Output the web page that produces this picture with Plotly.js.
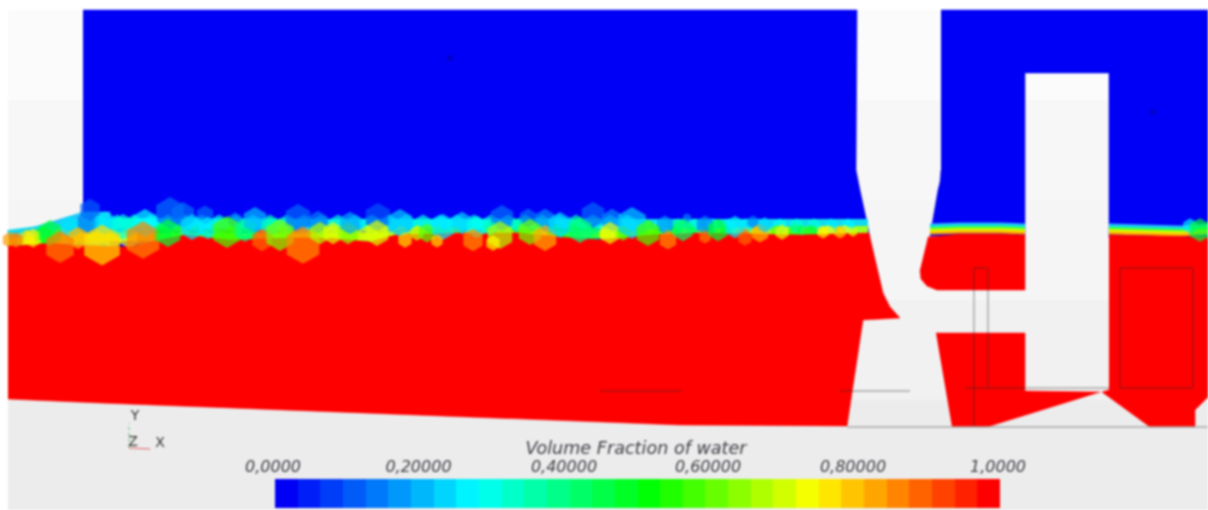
<!DOCTYPE html>
<html><head><meta charset="utf-8">
<script src="https://cdn.plot.ly/plotly-3.0.1.min.js"></script>
<style>html,body{margin:0;padding:0;background:#fff}#plot{width:1208px;height:510px;filter:blur(0.85px)}</style>
</head><body><div id="plot"></div>
<script>
// Volume fraction colour map
const jetScale=[[0,'#0000f6'],[0.27,'#00ffff'],[0.52,'#00ff00'],[0.75,'#ffff00'],[1,'#ff0000']];

// Background gradient
const bgX=[8,1208];
const bgY=[10,100,200,300,400,510];
const bgZ=[[0.983],[0.97],[0.96],[0.945],[0.925]];

// Air regions (volume fraction 0)
const airLeftX=[83,857,856,858,860,868,872,83];
const airLeftY=[10,10,170,182,190,227,252,252];
const airRightX=[941,1208,1208,1109,1109,1025,1025,930,938,940,941];
const airRightY=[10,10,238,238,73,73,236,236,190,182,170];

// Cyan wedge under the inlet block
const wedgeX=[8,83,110,110,8];
const wedgeY=[235,212,212,252,252];

// Interface backing bands
const backX=[8,100,300,500,700,868];
const backCyanY=[235,223,224,224,225,224];
const backGreenY=[242,237,237,236,232,230];
const midBandX=[930,960,1000,1025];
const midBandY=[229,228,228,229];
const rightBandX=[1109,1150,1180,1208];
const rightBandY=[229,230,231,229];
const bandColors=['#30b0ff','#00f0d0','#60ff20','#e0ff00','#ffb000'];
const bandOffsets=[-4,-2,0,2,4];

// Upper row of interface cells (lies under the water surface)
const upperX=[100,117,134,151,168,185,202,219,236,253,270,287,304,321,338,355,372,389,406,423,440,457,474,491,508,525,542,559,576,593,610,627,644,661,678,695,712,729,746,763,780,797,814,831,848];
const upperY=[225,225,225,225,225,225,225,225,225,225,225,225,225,225,225,225,225,225,225,225,225,225,225,225,225,225,225,225,225,225,225,225,226,226,226,226,226,226,226,226,226,226,226,226,226];
const upperSize=[18,18,18,18,18,18,18,18,18,18,18,18,18,18,18,18,18,18,18,18,18,18,18,18,18,18,18,18,18,18,18,18,13,13,13,13,13,13,13,13,13,13,13,13,13];
const upperValue=[0.28,0.3,0.33,0.28,0.3,0.26,0.27,0.3,0.3,0.22,0.33,0.3,0.25,0.22,0.3,0.24,0.3,0.25,0.25,0.3,0.26,0.27,0.3,0.3,0.3,0.35,0.3,0.26,0.35,0.3,0.25,0.27,0.33,0.28,0.35,0.3,0.27,0.27,0.25,0.27,0.28,0.3,0.3,0.25,0.26];

// Lower row of interface cells (lies under the water surface)
const lowerX=[10,27,44,61,78,95,112,129,146,163,180,197,214,231,248,265,282,299,316,333,350,367,384,401,418,437,454,471,488,505,522,539,556,573,590,607,624,641,658,675,692,709,726,743,760,777,794,811,828,845];
const lowerY=[240,239,236,238,238,238,238,238,238,236,236,236,236,236,236,238,236,238,236,236,236,236,236,236,236,236,236,238,238,236,236,238,235,235,235,235,235,235,235,233,233,233,233,234,233,232,232,232,232,232];
const lowerSize=[14,16,18,18,18,18,18,18,18,18,18,18,18,18,18,18,18,18,18,18,18,18,18,18,18,18,18,18,18,18,18,18,18,18,18,14,14,14,14,12,12,12,12,12,12,12,12,12,12,12];
const lowerValue=[0.85,0.78,0.5,0.8,0.8,0.78,0.78,0.75,0.85,0.5,0.6,0.55,0.55,0.55,0.5,0.88,0.62,0.85,0.68,0.72,0.65,0.72,0.72,0.7,0.7,0.58,0.62,0.72,0.68,0.68,0.6,0.75,0.5,0.5,0.45,0.72,0.6,0.58,0.58,0.5,0.45,0.48,0.5,0.85,0.8,0.6,0.55,0.5,0.75,0.75];

// Water regions (volume fraction 1)
const waterAX=[8,30,50,70,100,130,160,185,230,290,330,370,395,460,520,560,600,650,700,800,869,878,883,890,900,863,847,680,600,100,8];
const waterAY=[246,245,243,245,246,247,240,235,240,238,238,242,235,233,233,237,240,235,233,235,233,270,293,307,318,320,426,425,422,403,399];
const waterBX=[928,960,1000,1025,1025,937,927,921,920];
const waterBY=[237,234,234,235,290,290,286,279,270];
const waterCX=[936,1025,1025,1100,987,952];
const waterCY=[333,333,391,392,427,427];
const waterDX=[1109,1150,1208,1208,1195,1195,1150,1102,1109];
const waterDY=[235,236,237,397,410,427,427,392,390];

// Individually visible interface cells
const cellX=[90,170,183,205,235,298,318,378,502,528,545,593,612,665,687,705,753,
  16,33,50,70,88,78,60,105,123,145,102,143,168,192,208,227,245,255,270,262,280,303,320,333,348,350,377,400,405,417,
  427,443,437,462,477,490,473,500,493,517,530,545,560,580,610,623,632,648,668,683,705,718,735,745,760,765,782,795,802,823,840,853,1190,1200];
const cellY=[210,213,215,215,220,218,222,217,218,218,220,215,220,225,218,225,222,
  240,238,233,227,223,238,247,223,227,223,245,240,233,227,228,232,230,220,227,240,235,245,233,233,233,223,233,223,240,233,
  233,227,241,223,227,228,240,235,243,225,232,238,225,230,233,233,223,233,240,230,237,230,227,238,233,225,232,228,230,232,232,232,226,230];
const cellSize=[19,27,22,16,13,24,19,24,22,16,19,22,19,16,8,16,11,
  13,16,22,19,20,19,27,20,22,24,35,32,24,22,19,27,20,22,16,19,27,32,19,19,19,19,22,24,13,13,
  16,22,11,19,19,13,19,24,13,11,22,22,22,22,19,13,27,22,16,19,11,19,19,13,16,13,13,9,9,11,11,8,13,20];
const cellValue=[0.1,0.12,0.12,0.11,0.14,0.11,0.13,0.09,0.12,0.12,0.15,0.11,0.15,0.16,0.14,0.14,0.14,
  0.88,0.76,0.47,0.24,0.13,0.82,0.88,0.24,0.3,0.27,0.78,0.87,0.47,0.24,0.25,0.58,0.38,0.2,0.34,0.9,0.63,0.86,0.68,0.72,0.65,0.18,0.72,0.22,0.78,0.7,
  0.6,0.25,0.78,0.23,0.28,0.34,0.86,0.68,0.75,0.34,0.62,0.83,0.23,0.4,0.73,0.6,0.22,0.58,0.86,0.42,0.88,0.47,0.25,0.9,0.82,0.22,0.73,0.36,0.45,0.76,0.8,0.72,0.25,0.47];

// Thin mesh outlines
const outlineX=[974,974,988,988,null,965,1109,null,840,910,null,600,682,null,1120,1120,1193,1193,1120];
const outlineY=[427,268,268,388,null,388,388,null,391,391,null,391,391,null,388,268,268,388,388];
const floorX=[847,1208];
const floorY=[427,427];

// Smudges in the air phase
const smudgeX=[450,1153];
const smudgeY=[58,112];

// Colour bar
const barEdges=[];
const barValues=[];
const barCount=32;
for(let i=0;i<barCount;i++){barValues.push(i/(barCount-1));}
for(let i=0;i<=barCount;i++){barEdges.push(275+i*725/barCount);}
const barY=[479,508];

const tickLabels=['0,0000','0,20000','0,40000','0,60000','0,80000','1,0000'];
const tickX=[273,418.5,564,708,853,998];
const tickY=[468,468,468,468,468,468];
const barTitle='Volume Fraction of water';
const titleX=[636];
const titleY=[450];

// Axes triad
const triadXx=[129,150];const triadXy=[448,449];
const triadYx=[129,129];const triadYy=[448,423];
const triadLabels=['Y','Z','X'];
const triadLabelX=[135,133,160];
const triadLabelY=[416,442,443];

const gray=[[0,'#000000'],[1,'#ffffff']];
const poly=(x,y,c)=>({type:'scatter',mode:'lines',x:x,y:y,fill:'toself',fillcolor:c,line:{width:0.5,color:c},hoverinfo:'skip'});
const cells=(x,y,s,v)=>({type:'scatter',mode:'markers',x:x,y:y,marker:{symbol:'hexagon',size:s,sizemode:'diameter',sizeref:0.85,color:v,cmin:0,cmax:1,colorscale:jetScale,line:{width:0}},hoverinfo:'skip'});
const traces=[];
traces.push({type:'heatmap',x:bgX,y:bgY,z:bgZ,colorscale:gray,zmin:0,zmax:1,showscale:false,hoverinfo:'skip'});
traces.push(poly(airLeftX,airLeftY,'#0000f6'));
traces.push(poly(airRightX,airRightY,'#0000f6'));
traces.push(poly(wedgeX,wedgeY,'#20c8f8'));
traces.push({type:'scatter',mode:'lines',x:backX,y:backCyanY,line:{width:10,color:'#10d8f0'},hoverinfo:'skip'});
traces.push({type:'scatter',mode:'lines',x:backX,y:backGreenY,line:{width:8,color:'#a0ff20'},hoverinfo:'skip'});
traces.push(cells(upperX,upperY,upperSize,upperValue));
traces.push(cells(lowerX,lowerY,lowerSize,lowerValue));
bandColors.forEach((c,i)=>{
  traces.push({type:'scatter',mode:'lines',x:midBandX,y:midBandY.map(v=>v+bandOffsets[i]),line:{width:3,color:c},hoverinfo:'skip'});
  traces.push({type:'scatter',mode:'lines',x:rightBandX,y:rightBandY.map(v=>v+bandOffsets[i]),line:{width:3,color:c},hoverinfo:'skip'});
});
traces.push(poly(waterAX,waterAY,'#ff0000'));
traces.push(poly(waterBX,waterBY,'#ff0000'));
traces.push(poly(waterCX,waterCY,'#ff0000'));
traces.push(poly(waterDX,waterDY,'#ff0000'));
traces.push(cells(cellX,cellY,cellSize,cellValue));
traces.push({type:'scatter',mode:'lines',x:outlineX,y:outlineY,line:{width:1,color:'rgba(40,40,40,0.55)'},hoverinfo:'skip'});
traces.push({type:'scatter',mode:'lines',x:floorX,y:floorY,line:{width:1.5,color:'#a8a8a8'},hoverinfo:'skip'});
traces.push({type:'scatter',mode:'markers',x:smudgeX,y:smudgeY,marker:{size:6,color:'rgba(0,0,120,0.35)'},hoverinfo:'skip'});
traces.push({type:'heatmap',x:barEdges,y:barY,z:[barValues],colorscale:jetScale,zmin:0,zmax:1,showscale:false,hoverinfo:'skip'});
traces.push({type:'scatter',mode:'lines',x:triadXx,y:triadXy,line:{width:1,color:'#e06060'},hoverinfo:'skip'});
traces.push({type:'scatter',mode:'lines',x:triadYx,y:triadYy,line:{width:1,color:'#60c080',dash:'dot'},hoverinfo:'skip'});
const txt={family:'"DejaVu Sans"',size:16,color:'#404048',style:'italic'};
traces.push({type:'scatter',mode:'text',x:tickX,y:tickY,text:tickLabels,textposition:'middle center',textfont:txt,hoverinfo:'skip'});
traces.push({type:'scatter',mode:'text',x:titleX,y:titleY,text:[barTitle],textposition:'middle center',textfont:Object.assign({},txt,{size:17.6}),hoverinfo:'skip'});
traces.push({type:'scatter',mode:'text',x:triadLabelX,y:triadLabelY,text:triadLabels,textposition:'middle center',textfont:{family:'"DejaVu Sans"',size:14,color:'#333'},hoverinfo:'skip'});

const layout={width:1208,height:510,margin:{l:0,r:0,t:0,b:0},paper_bgcolor:'#fff',plot_bgcolor:'rgba(0,0,0,0)',showlegend:false,
  xaxis:{range:[0,1208],visible:false,fixedrange:true},
  yaxis:{range:[510,0],visible:false,fixedrange:true}};
Plotly.newPlot('plot',traces,layout,{staticPlot:true,displayModeBar:false});
</script></body></html>
